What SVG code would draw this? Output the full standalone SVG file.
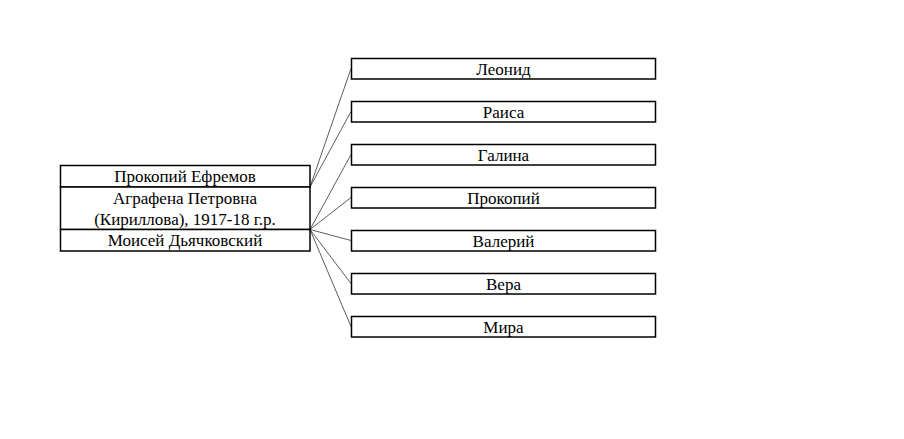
<svg xmlns="http://www.w3.org/2000/svg" width="904" height="439" viewBox="0 0 904 439">
<style>
.box{fill:#fff;stroke:#000;stroke-width:1.5}
.t{font-family:"Liberation Serif","Times New Roman",serif;font-size:17px;fill:#000;text-anchor:middle}
.c{stroke:#333;stroke-width:0.8;fill:none}
</style>
<rect width="904" height="439" fill="#fff"/>
<g id="connectors">
<line class="c" x1="310" y1="187" x2="351" y2="68.5"/>
<line class="c" x1="310" y1="187" x2="351" y2="111.5"/>
<line class="c" x1="310" y1="229.5" x2="351" y2="154.5"/>
<line class="c" x1="310" y1="229.5" x2="351" y2="197.5"/>
<line class="c" x1="310" y1="229.5" x2="351" y2="240.5"/>
<line class="c" x1="310" y1="229.5" x2="351" y2="283.5"/>
<line class="c" x1="310" y1="229.5" x2="351" y2="326.5"/>
</g>
<g id="parents">
<rect class="box" x="60.5" y="165.5" width="249.5" height="21.5"/>
<text class="t" x="185" y="182">Прокопий Ефремов</text>
<rect class="box" x="60.5" y="187" width="249.5" height="42.5"/>
<text class="t" x="185" y="204">Аграфена Петровна</text>
<text class="t" x="185" y="225">(Кириллова), 1917-18 г.р.</text>
<rect class="box" x="60.5" y="229.5" width="249.5" height="21.5"/>
<text class="t" x="185" y="246">Моисей Дьячковский</text>
</g>
<g id="child-leonid"><rect class="box" x="351.5" y="58.5" width="304" height="20.5"/><text class="t" x="503.5" y="75">Леонид</text></g>
<g id="child-raisa"><rect class="box" x="351.5" y="101.5" width="304" height="20.5"/><text class="t" x="503.5" y="118">Раиса</text></g>
<g id="child-galina"><rect class="box" x="351.5" y="144.5" width="304" height="20.5"/><text class="t" x="503.5" y="161">Галина</text></g>
<g id="child-prokopiy"><rect class="box" x="351.5" y="187.5" width="304" height="20.5"/><text class="t" x="503.5" y="204">Прокопий</text></g>
<g id="child-valeriy"><rect class="box" x="351.5" y="230.5" width="304" height="20.5"/><text class="t" x="503.5" y="247">Валерий</text></g>
<g id="child-vera"><rect class="box" x="351.5" y="273.5" width="304" height="20.5"/><text class="t" x="503.5" y="290">Вера</text></g>
<g id="child-mira"><rect class="box" x="351.5" y="316.5" width="304" height="20.5"/><text class="t" x="503.5" y="333">Мира</text></g>
</svg>
